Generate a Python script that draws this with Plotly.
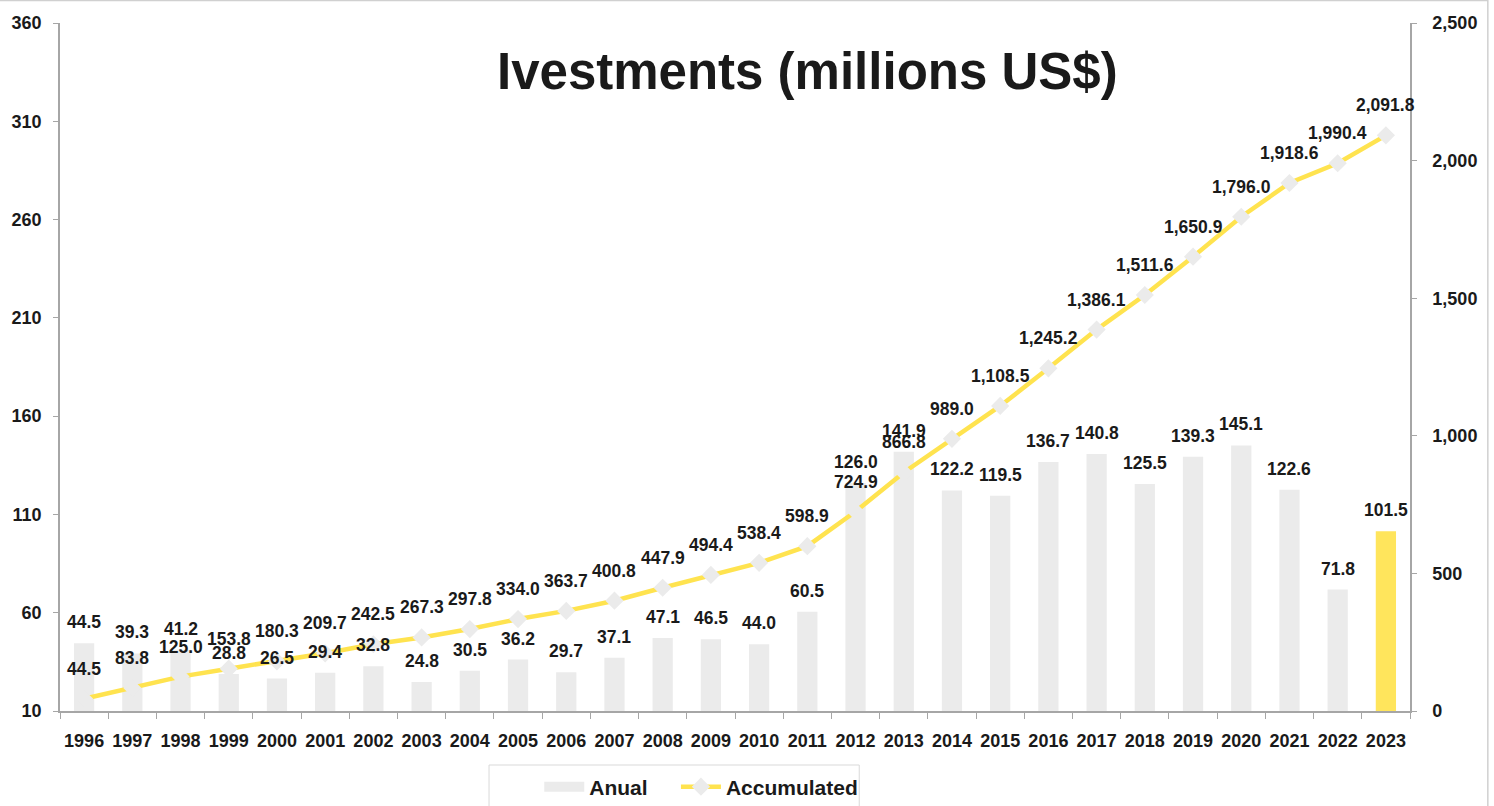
import plotly.graph_objects as go

years = [str(y) for y in range(1996, 2024)]
annual = [44.5, 39.3, 41.2, 28.8, 26.5, 29.4, 32.8, 24.8, 30.5, 36.2, 29.7, 37.1, 47.1, 46.5,
          44.0, 60.5, 126.0, 141.9, 122.2, 119.5, 136.7, 140.8, 125.5, 139.3, 145.1, 122.6, 71.8, 101.5]
accumulated = [44.5, 83.8, 125.0, 153.8, 180.3, 209.7, 242.5, 267.3, 297.8, 334.0, 363.7, 400.8,
               447.9, 494.4, 538.4, 598.9, 724.9, 866.8, 989.0, 1108.5, 1245.2, 1386.1, 1511.6,
               1650.9, 1796.0, 1918.6, 1990.4, 2091.8]

FONT = "Liberation Sans"
TXT = "#1a1a1a"
GREY_BAR = "#ebebeb"
YELLOW_BAR = "#ffe55c"
YELLOW_LINE = "#ffe34f"
AXIS = "#a6a6a6"

bar_colors = [GREY_BAR] * (len(years) - 1) + [YELLOW_BAR]

fig = go.Figure()
fig.add_trace(go.Bar(
    x=years, y=annual, name="Anual", showlegend=False,
    marker=dict(color=bar_colors, line=dict(width=0)),
    yaxis="y",
))
# legend entry for the bars (wide grey swatch); trailing spaces widen the gap to the next entry
fig.add_trace(go.Scatter(
    x=[None], y=[None], name="Anual\u00a0\u00a0\u00a0\u00a0", mode="lines",
    line=dict(color=GREY_BAR, width=12), yaxis="y",
))
fig.add_trace(go.Scatter(
    x=years, y=accumulated, name="Accumulated", mode="lines+markers",
    line=dict(color=YELLOW_LINE, width=4.5),
    marker=dict(symbol="diamond", size=14, color="#ebebeb", line=dict(width=0)),
    yaxis="y2",
))

annotations = []
for i, v in enumerate(annual):
    annotations.append(dict(x=i, y=v, xref="x", yref="y", text=f"{v:,.1f}", showarrow=False,
                            yshift=21, font=dict(family=FONT, size=17.5, color=TXT)))
for i, v in enumerate(accumulated):
    annotations.append(dict(x=i, y=v, xref="x", yref="y2", text=f"{v:,.1f}", showarrow=False,
                            yshift=30, font=dict(family=FONT, size=17.5, color=TXT)))
annotations.append(dict(x=0.5536, y=0.929, xref="paper", yref="paper", text="<b>Ivestments (millions US$)</b>",
                        showarrow=False, xanchor="center", yanchor="middle",
                        font=dict(family=FONT, size=51, color=TXT)))

fig.update_layout(
    width=1494, height=806,
    margin=dict(l=57, r=84, t=23, b=95),
    paper_bgcolor="white", plot_bgcolor="white",
    font=dict(family=FONT, size=18, color=TXT, weight="bold"),
    bargap=0.58,
    showlegend=True,
    legend=dict(orientation="h", x=0.355, xanchor="left",
                yref="container", y=1 - 787 / 806, yanchor="middle",
                font=dict(family=FONT, size=21, color=TXT, weight="bold"),
                bgcolor="rgba(0,0,0,0)", borderwidth=0, itemwidth=40,
                traceorder="normal"),
    xaxis=dict(type="category", range=[-0.5, len(years) - 0.5], showline=True, linecolor=AXIS,
               linewidth=1.5, ticks="outside", tickson="boundaries", ticklen=6, tickcolor=AXIS,
               ticklabelstandoff=13, tickangle=0,
               tickfont=dict(family=FONT, size=18, color=TXT, weight="bold"),
               showgrid=False, zeroline=False),
    yaxis=dict(range=[10, 360], dtick=50, tick0=10, showline=True, linecolor=AXIS, linewidth=1.5,
               ticks="outside", ticklen=5, tickcolor=AXIS, ticklabelstandoff=8,
               tickfont=dict(family=FONT, size=18, color=TXT, weight="bold"),
               showgrid=False, zeroline=False),
    yaxis2=dict(range=[0, 2500], dtick=500, overlaying="y", side="right", tickformat=",",
                showline=True, linecolor=AXIS, linewidth=1.5, ticks="outside", ticklen=5,
                tickcolor=AXIS, ticklabelstandoff=12,
                tickfont=dict(family=FONT, size=18, color=TXT, weight="bold"),
                showgrid=False, zeroline=False),
    annotations=annotations,
    shapes=[
        dict(type="rect", xref="paper", yref="paper", x0=-0.1, x1=(1488 - 57) / 1353,
             y0=-0.3, y1=(711 - 0.5) / 688, line=dict(color="#d0d0d0", width=1.5),
             fillcolor="rgba(0,0,0,0)", layer="below"),
        dict(type="rect", xref="paper", yref="paper", x0=(487 - 57) / 1353, x1=(858 - 57) / 1353,
             y0=-0.2, y1=-(765 - 711) / 688, line=dict(color="#d9d9d9", width=1),
             fillcolor="rgba(0,0,0,0)", layer="below"),
    ],
)

fig.write_html("out.html", config={"displayModeBar": False})

# remove default page margin so the figure sits at the window's top-left corner
with open("out.html", "r", encoding="utf-8") as f:
    html = f.read()
html = html.replace("<body>", '<body style="margin:0;overflow:hidden">', 1)
with open("out.html", "w", encoding="utf-8") as f:
    f.write(html)
